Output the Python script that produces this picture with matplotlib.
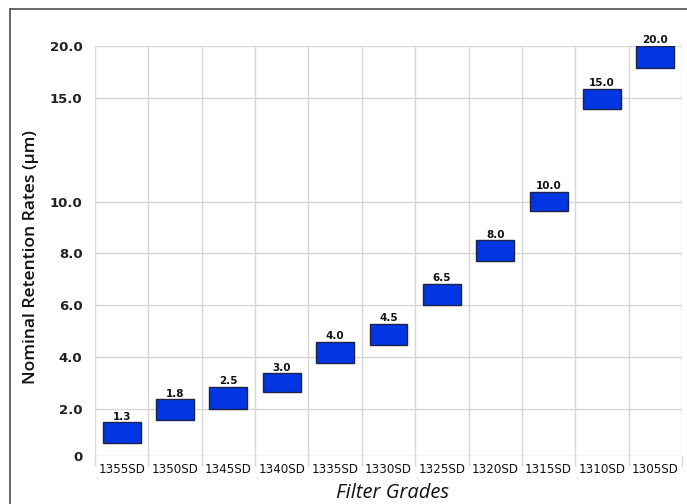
import matplotlib
matplotlib.use("Agg")
import matplotlib.pyplot as plt
import numpy as np
from matplotlib.lines import Line2D

plt.rcParams['font.family'] = ['Open Sans', 'DejaVu Sans']

# data
grades = ['1355SD', '1350SD', '1345SD', '1340SD', '1335SD', '1330SD',
          '1325SD', '1320SD', '1315SD', '1310SD', '1305SD']
nominal = [1.3, 1.8, 2.5, 3.0, 4.0, 4.5, 6.5, 8.0, 10.0, 15.0, 20.0]
box_low = [0.56, 1.51, 2.0, 2.63, 3.76, 4.46, 6.0, 7.7, 9.63, 14.46, 17.9]
box_high = [1.42, 2.36, 2.84, 3.37, 4.59, 5.27, 6.81, 8.5, 10.5, 15.86, 20.0]
ytick_vals = [0, 2, 4, 6, 8, 10, 15, 20]
ytick_labels = ['0', '2.0', '4.0', '6.0', '8.0', '10.0', '15.0', '20.0']

# uneven value axis: tick values mapped to pixel heights above the baseline
scale_v = np.array([0, 2, 4, 6, 8, 10, 15, 20], dtype=float)
scale_t = np.array([0, 47.3, 99, 151, 203, 254, 358, 410.3])


def fwd(v):
    return np.interp(v, scale_v, scale_t)


def inv(t):
    return np.interp(t, scale_t, scale_v)


fig = plt.figure(figsize=(6.87, 5.04), dpi=100)
ax = fig.add_axes([95 / 687, 1 - 456 / 504, (682 - 95) / 687, (456 - 45.7) / 504])
ax.set_yscale('function', functions=(fwd, inv))

x = np.arange(len(grades))
heights = np.array(box_high) - np.array(box_low)
ax.bar(x, heights, bottom=box_low, width=0.71, color='#0236e2',
       edgecolor='#1b2447', linewidth=1.0, zorder=3)

for xi, top, val in zip(x, box_high, nominal):
    ax.annotate('%.1f' % val, (xi, top), xytext=(0, 0.5), textcoords='offset points',
                ha='center', va='bottom', fontsize=7.5, fontweight='bold',
                family='DejaVu Sans', color='#111111', zorder=4)

ax.set_xlim(-0.5, len(grades) - 0.5)
ax.set_ylim(0, 20)
ax.set_yticks(ytick_vals)
ax.set_yticklabels(ytick_labels, fontsize=9.5, fontweight='bold',
                   family='DejaVu Sans', color='#222222')
ax.set_xticks(x)
ax.set_xticklabels(grades, fontsize=8.6, family='DejaVu Sans', color='#111111')
ax.set_xticks(np.arange(len(grades) + 1) - 0.5, minor=True)
ax.tick_params(axis='x', which='major', length=0, pad=5)
ax.tick_params(axis='x', which='minor', length=7, color='#d6d6d6', width=1)
ax.tick_params(axis='y', length=0, pad=9)
ax.grid(True, which='minor', axis='x', color='#d6d6d6', linewidth=1, zorder=0)
ax.grid(True, which='major', axis='y', color='#d6d6d6', linewidth=1, zorder=0)
for s in ax.spines.values():
    s.set_visible(False)

fig.text(31 / 687, 1 - 256.5 / 504, 'Nominal Retention Rates (\u00b5m)', rotation=90,
         ha='center', va='center', fontsize=12.6, fontweight='semibold', color='#111111')
fig.text(392 / 687, 1 - 503 / 504, 'Filter Grades', ha='center', va='bottom',
         fontsize=14.5, style='italic', color='#111111')

# outer frame, top and left edges only
fig.add_artist(Line2D([10 / 687, 10 / 687], [0, 1 - 9 / 504], color='#5a5a5a', linewidth=1.3))
fig.add_artist(Line2D([10 / 687, 1], [1 - 9 / 504, 1 - 9 / 504], color='#5a5a5a', linewidth=1.3))

fig.savefig('out.png', dpi=100)
